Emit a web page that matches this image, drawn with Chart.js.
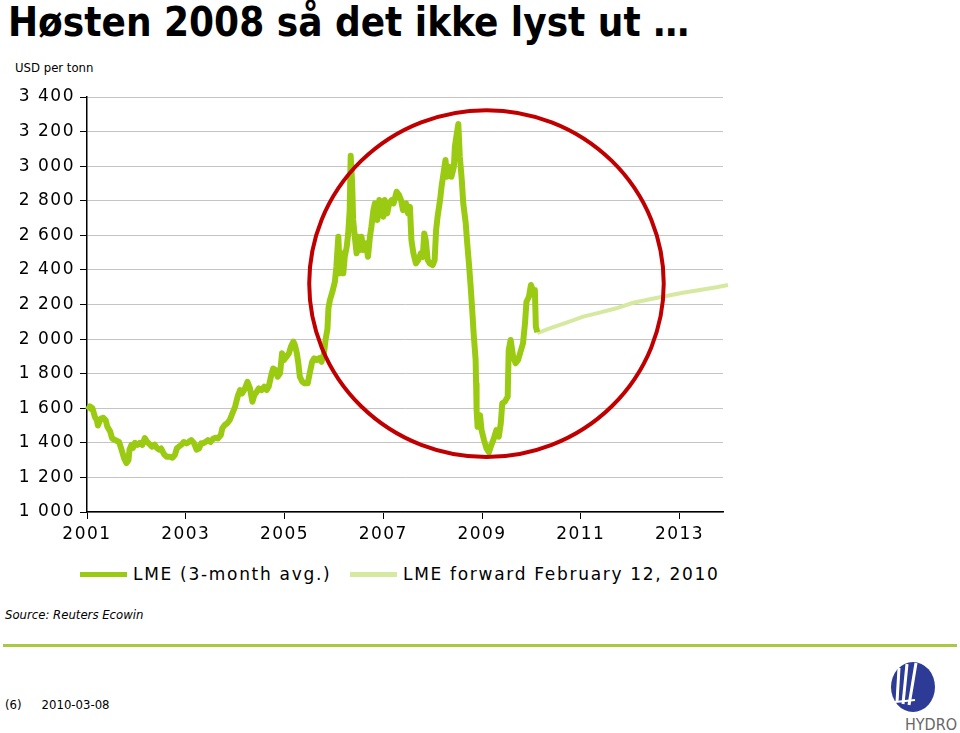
<!DOCTYPE html>
<html>
<head>
<meta charset="utf-8">
<script src="https://cdn.jsdelivr.net/npm/chart.js@4.4.1/dist/chart.umd.min.js"></script>
<style>
  html, body { margin: 0; padding: 0; background: #fff; }
  #page { position: relative; width: 960px; height: 733px; overflow: hidden; font-family: "DejaVu Sans", Verdana, sans-serif; }
  #title { position: absolute; left: 8px; top: 0px; line-height: 44px; font-family: "DejaVu Sans Condensed", "DejaVu Sans", sans-serif; font-weight: bold; font-size: 40px; color: #000; white-space: nowrap; }
  #unit { position: absolute; left: 15px; top: 60px; font-family: "DejaVu Sans Condensed", sans-serif; font-size: 13px; color: #000; }
  #chartBox { position: absolute; left: 0; top: 0; width: 740px; height: 560px; }
  .leg { position: absolute; top: 564px; font-size: 17px; letter-spacing: 1.7px; color: #000; white-space: nowrap; }
  .legLine { position: absolute; top: 572px; width: 47px; height: 5px; }
  #source { position: absolute; left: 5px; top: 607px; font-family: "DejaVu Sans Condensed", sans-serif; font-style: italic; font-size: 13px; }
  #rule { position: absolute; left: 3px; top: 644px; width: 954px; height: 3px; background: #a8c940; }
  #foot { position: absolute; left: 5px; top: 697px; font-family: "DejaVu Sans Condensed", sans-serif; font-size: 13px; }
  #foot span { margin-left: 20px; }
  #logo { position: absolute; left: 884px; top: 658px; }
</style>
</head>
<body>
<div id="page">
  <div id="title">Høsten 2008 så det ikke lyst ut …</div>
  <div id="unit">USD per tonn</div>
  <div id="chartBox"><canvas id="lmeChart" width="740" height="560"></canvas></div>
  <div class="legLine" style="left:80px;background:#9acb12"></div>
  <div class="leg" style="left:133px">LME (3-month avg.)</div>
  <div class="legLine" style="left:350px;background:#d6e9a1"></div>
  <div class="leg" style="left:403px">LME forward February 12, 2010</div>
  <div id="source">Source: Reuters Ecowin</div>
  <div id="rule"></div>
  <div id="foot">(6)<span>2010-03-08</span></div>
  <svg id="logo" width="76" height="75" viewBox="0 0 76 75">
    <ellipse cx="29" cy="29" rx="22" ry="25" fill="#2e3b96"/>
    <path d="M15 10 L13 44" stroke="#fff" stroke-width="3" fill="none"/>
    <path d="M23 6 L19 46" stroke="#fff" stroke-width="3" fill="none"/>
    <path d="M32 5 L25 47" stroke="#fff" stroke-width="3" fill="none"/>
    <path d="M11 44 L31 42" stroke="#fff" stroke-width="2" fill="none"/>
    <text x="73" y="72" text-anchor="end" font-family="DejaVu Sans Condensed" font-size="16" fill="#666">HYDRO</text>
  </svg>
</div>
<script>
// LME aluminium, 3-month avg (decimal year, USD per tonn)
const lmeYears = [
  2001.01, 2001.06, 2001.11, 2001.16, 2001.20, 2001.22, 2001.28, 2001.33, 2001.38, 2001.41,
  2001.47, 2001.51, 2001.58, 2001.65, 2001.68, 2001.71, 2001.75, 2001.80, 2001.84, 2001.86,
  2001.90, 2001.93, 2001.97, 2002.02, 2002.07, 2002.12, 2002.17, 2002.22, 2002.28, 2002.32,
  2002.37, 2002.41, 2002.46, 2002.50, 2002.56, 2002.61, 2002.68, 2002.73, 2002.78, 2002.82,
  2002.86, 2002.91, 2002.96, 2003.02, 2003.06, 2003.11, 2003.17, 2003.22, 2003.27, 2003.31,
  2003.35, 2003.40, 2003.45, 2003.50, 2003.56, 2003.61, 2003.65, 2003.71, 2003.74, 2003.79,
  2003.84, 2003.89, 2003.93, 2004.00, 2004.05, 2004.10, 2004.14, 2004.20, 2004.25, 2004.30,
  2004.35, 2004.39, 2004.44, 2004.48, 2004.54, 2004.59, 2004.64, 2004.68, 2004.74, 2004.77,
  2004.82, 2004.86, 2004.91, 2004.95, 2004.99, 2005.04, 2005.09, 2005.13, 2005.18, 2005.21,
  2005.25, 2005.28, 2005.31, 2005.36, 2005.41, 2005.47, 2005.51, 2005.56, 2005.60, 2005.65,
  2005.70, 2005.75, 2005.80, 2005.83, 2005.87, 2005.89, 2005.92, 2005.97, 2006.02, 2006.05,
  2006.09, 2006.12, 2006.16, 2006.19, 2006.22, 2006.26, 2006.29, 2006.32, 2006.34, 2006.37,
  2006.39, 2006.43, 2006.46, 2006.49, 2006.53, 2006.56, 2006.59, 2006.65, 2006.69, 2006.73,
  2006.76, 2006.80, 2006.83, 2006.88, 2006.92, 2006.97, 2007.00, 2007.03, 2007.08, 2007.12,
  2007.17, 2007.21, 2007.27, 2007.32, 2007.36, 2007.40, 2007.46, 2007.50, 2007.54, 2007.57,
  2007.61, 2007.66, 2007.71, 2007.76, 2007.80, 2007.83, 2007.86, 2007.90, 2007.94, 2008.00,
  2008.04, 2008.07, 2008.10, 2008.15, 2008.18, 2008.21, 2008.26, 2008.29, 2008.33, 2008.38,
  2008.43, 2008.45, 2008.48, 2008.52, 2008.55, 2008.59, 2008.62, 2008.67, 2008.70, 2008.74,
  2008.77, 2008.81, 2008.83, 2008.87, 2008.88, 2008.89, 2008.91, 2008.96, 2008.99, 2009.04,
  2009.09, 2009.14, 2009.19, 2009.24, 2009.29, 2009.34, 2009.38, 2009.41, 2009.46, 2009.52,
  2009.54, 2009.58, 2009.63, 2009.68, 2009.73, 2009.79, 2009.83, 2009.87, 2009.90, 2009.95,
  2009.99, 2010.03, 2010.07, 2010.09, 2010.12
];
const lmePrice = [
  1590, 1610, 1600, 1550, 1530, 1500, 1540, 1545, 1530, 1495,
  1465, 1425, 1415, 1405, 1378, 1350, 1312, 1283, 1300, 1360,
  1388, 1370, 1400, 1388, 1400, 1388, 1428, 1405, 1388, 1378,
  1390, 1372, 1360, 1368, 1334, 1320, 1320, 1314, 1330, 1368,
  1378, 1388, 1405, 1397, 1405, 1416, 1397, 1360, 1368, 1397,
  1397, 1405, 1416, 1405, 1425, 1430, 1425, 1445, 1484, 1503,
  1513, 1532, 1560, 1610, 1667, 1705, 1686, 1715, 1753, 1715,
  1638, 1677, 1696, 1715, 1705, 1725, 1705, 1725, 1802, 1830,
  1821, 1782, 1802, 1918, 1879, 1898, 1918, 1956, 1985, 1966,
  1918, 1860, 1782, 1753, 1744, 1744, 1802, 1869, 1889, 1879,
  1889, 1869, 1918, 1995, 2060, 2180, 2226, 2274, 2332, 2418,
  2592, 2380, 2496, 2380, 2476, 2534, 2611, 2746, 3060, 2900,
  2689, 2573, 2496, 2592, 2515, 2592, 2515, 2554, 2476, 2592,
  2650, 2746, 2785, 2689, 2804, 2765, 2708, 2804, 2727, 2785,
  2804, 2785, 2852, 2833, 2804, 2746, 2785, 2727, 2765, 2573,
  2496, 2438, 2457, 2496, 2476, 2611, 2573, 2457, 2438, 2428,
  2457, 2631, 2708, 2804, 2881, 2939, 3036, 2939, 2997, 2939,
  2997, 3113, 3171, 3244, 3055, 2920, 2785, 2669, 2554, 2418,
  2303, 2129, 2033, 1880, 1740, 1590, 1493, 1560, 1474, 1416,
  1368, 1345, 1388, 1426, 1474, 1436, 1513, 1629, 1638, 1667,
  1937, 1995, 1898, 1860, 1879, 1937, 1976, 2091, 2216, 2245,
  2313, 2284, 2284, 2072, 2040
];
// LME forward curve as of February 12, 2010
const fwdYears = [2010.12, 2010.37, 2010.71, 2011.05, 2011.38, 2011.72, 2012.06, 2012.40, 2012.73, 2013.07, 2013.41, 2013.75, 2013.98];
const fwdPrice = [2035, 2062, 2095, 2130, 2153, 2178, 2210, 2230, 2249, 2268, 2284, 2300, 2313];
const xTickYears = [2001, 2003, 2005, 2007, 2009, 2011, 2013];
const yMin = 1000, yMax = 3400, yStep = 200;

const mainColor = '#9acb12';
const fwdColor = '#d6e9a1';

function toPoints(xs, ys) {
  return xs.map((x, i) => ({ x: x, y: ys[i] }));
}

// red ring round the 2008 crash, in data units
const ring = { x: 2009.09, y: 2321, rx: 3.59, ry: 1003 };

const ringPlugin = {
  id: 'ring',
  beforeDraw(chart) {
    chart.ctx.letterSpacing = '1.5px';
  },
  afterDatasetsDraw(chart) {
    const xs = chart.scales.x, ys = chart.scales.y;
    const cx = xs.getPixelForValue(ring.x);
    const cy = ys.getPixelForValue(ring.y);
    const rx = xs.getPixelForValue(ring.x + ring.rx) - cx;
    const ry = cy - ys.getPixelForValue(ring.y + ring.ry);
    const ctx = chart.ctx;
    ctx.save();
    ctx.beginPath();
    ctx.ellipse(cx, cy, rx, ry, 0, 0, Math.PI * 2);
    ctx.strokeStyle = '#c00000';
    ctx.lineWidth = 4;
    ctx.stroke();
    ctx.restore();
  }
};

new Chart(document.getElementById('lmeChart'), {
  type: 'line',
  data: {
    datasets: [{
      label: 'LME (3-month avg.)',
      data: toPoints(lmeYears, lmePrice),
      borderColor: mainColor,
      borderWidth: 6,
      borderJoinStyle: 'round',
      pointRadius: 0,
      tension: 0,
      clip: false
    }, {
      label: 'LME forward February 12, 2010',
      data: toPoints(fwdYears, fwdPrice),
      borderColor: fwdColor,
      borderWidth: 4,
      pointRadius: 0,
      tension: 0,
      clip: false
    }]
  },
  options: {
    responsive: false,
    animation: false,
    layout: { padding: { top: 97, right: 17, left: 0, bottom: 0 } },
    plugins: {
      legend: { display: false },
      tooltip: { enabled: false }
    },
    scales: {
      x: {
        type: 'linear',
        min: 2001,
        max: 2013.88,
        afterBuildTicks: (scale) => { scale.ticks = xTickYears.map(v => ({ value: v })); },
        afterFit: (scale) => { scale.height = 48; },
        grid: { drawOnChartArea: false, drawTicks: true, tickLength: 7, tickColor: '#000' },
        border: { color: '#000', width: 1.5 },
        ticks: {
          autoSkip: false,
          maxRotation: 0,
          padding: 5,
          color: '#000',
          font: { family: 'DejaVu Sans', size: 17 },
          callback: (v) => String(v)
        }
      },
      y: {
        min: yMin,
        max: yMax,
        afterFit: (scale) => { scale.width = 87; },
        grid: { color: '#c4c4c4', lineWidth: 1, tickLength: 7, tickColor: '#000' },
        border: { color: '#000', width: 1.5 },
        ticks: {
          stepSize: yStep,
          padding: 5,
          color: '#000',
          font: { family: 'DejaVu Sans', size: 17 },
          callback: (v) => String(v).replace(/\B(?=(\d{3})+(?!\d))/g, ' ')
        }
      }
    }
  },
  plugins: [ringPlugin]
});
</script>
</body>
</html>
